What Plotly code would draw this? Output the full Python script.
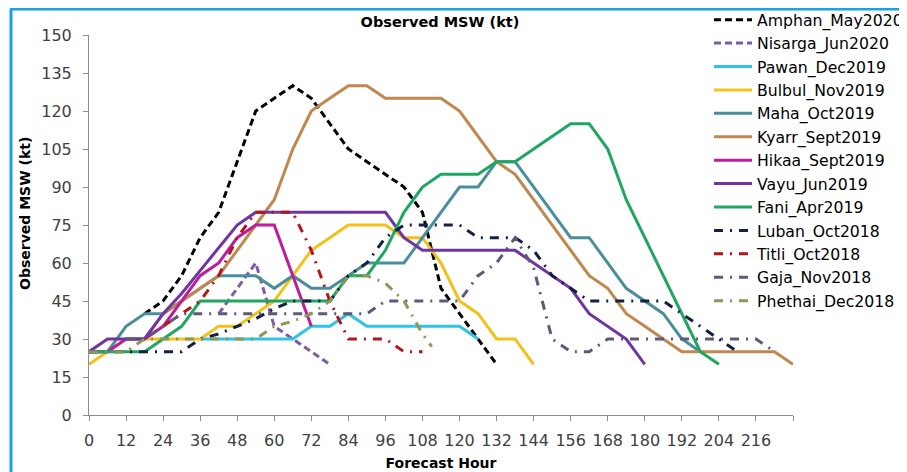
import plotly.graph_objects as go

FONT = "DejaVu Sans"

# ---- data (forecast hour, observed MSW kt) ----
amphan_h = list(range(18, 133, 6))
amphan_v = [40, 45, 55, 70, 80, 100, 120, 125, 130, 125, 115, 105, 100, 95, 90, 80, 50, 40, 30, 20]

nisarga_h = list(range(42, 79, 6))
nisarga_v = [40, 50, 60, 35, 30, 25, 20]

pawan_h = list(range(36, 127, 6))
pawan_v = [30, 30, 30, 30, 30, 30, 35, 35, 40, 35, 35, 35, 35, 35, 35, 30]

bulbul_h = list(range(0, 145, 6))
bulbul_v = [20, 25, 30, 30, 30, 30, 30, 35, 35, 40, 45, 55, 65, 70, 75, 75, 75, 70, 70, 60, 45, 40, 30, 30, 20]

maha_h = list(range(0, 199, 6))
maha_v = [25, 25, 35, 40, 40, 45, 50, 55, 55, 55, 50, 55, 50, 50, 55, 60, 60, 60, 70, 80,
          90, 90, 100, 100, 90, 80, 70, 70, 60, 50, 45, 40, 30, 25]

kyarr_h = list(range(18, 229, 6))
kyarr_v = [30, 40, 45, 50, 55, 65, 75, 85, 105, 120, 125, 130, 130, 125, 125, 125, 125, 120,
           110, 100, 95, 85, 75, 65, 55, 50, 40, 35, 30, 25, 25, 25, 25, 25, 25, 20]

hikaa_h = list(range(0, 73, 6))
hikaa_v = [25, 25, 30, 30, 35, 45, 55, 60, 70, 75, 75, 55, 35]

vayu_h = list(range(0, 181, 6))
vayu_v = [25, 30, 30, 30, 40, 48, 57, 66, 75, 80, 80, 80, 80, 80, 80, 80, 80, 70, 65,
          65, 65, 65, 65, 65, 60, 55, 50, 40, 35, 30, 20]

fani_h = list(range(0, 205, 6))
fani_v = [25, 25, 25, 25, 30, 35, 45, 45, 45, 45, 45, 45, 45, 45, 55, 55, 65, 80, 90, 95,
          95, 95, 100, 100, 105, 110, 115, 115, 105, 85, 70, 55, 40, 25, 20]

luban_h = list(range(0, 211, 6))
luban_v = [25, 25, 25, 25, 25, 25, 30, 32, 35, 38, 42, 45, 45, 45, 55, 60, 70, 75, 75, 75,
           75, 70, 70, 70, 65, 55, 50, 45, 45, 45, 45, 45, 40, 35, 30, 25]

titli_h = list(range(24, 109, 6))
titli_v = [35, 40, 45, 55, 70, 80, 80, 80, 65, 45, 30, 30, 30, 25, 25]

gaja_h = list(range(12, 223, 6))
gaja_v = [30, 30, 35, 40, 40, 40, 40, 40, 40, 40, 40, 40, 40, 40, 45, 45, 45, 45, 45, 55,
          60, 70, 58, 30, 25, 25, 30, 30, 30, 30, 30, 30, 30, 30, 30, 25]

phethai_h = list(range(0, 109, 6)) + [111]
phethai_v = [25, 25, 25, 30, 30, 30, 30, 30, 30, 30, 35, 37, 40, 45, 55, 55, 52, 45, 32, 27]

x_ticks = list(range(0, 229, 12))
x_labels = [str(t) for t in range(0, 217, 12)] + [""]
y_ticks = list(range(0, 151, 15))

DASH = "7px,4px"
DASHDOT = "9px,7px,2px,7px"

series = [
    ("Amphan_May2020", amphan_h, amphan_v, "#000000", DASH),
    ("Nisarga_Jun2020", nisarga_h, nisarga_v, "#7E5AA8", DASH),
    ("Pawan_Dec2019", pawan_h, pawan_v, "#2FC3E6", "solid"),
    ("Bulbul_Nov2019", bulbul_h, bulbul_v, "#F2C21B", "solid"),
    ("Maha_Oct2019", maha_h, maha_v, "#4A8E9E", "solid"),
    ("Kyarr_Sept2019", kyarr_h, kyarr_v, "#C0874F", "solid"),
    ("Hikaa_Sept2019", hikaa_h, hikaa_v, "#BE1C9C", "solid"),
    ("Vayu_Jun2019", vayu_h, vayu_v, "#7035A0", "solid"),
    ("Fani_Apr2019", fani_h, fani_v, "#1FA660", "solid"),
    ("Luban_Oct2018", luban_h, luban_v, "#132043", DASHDOT),
    ("Titli_Oct2018", titli_h, titli_v, "#B2151B", DASHDOT),
    ("Gaja_Nov2018", gaja_h, gaja_v, "#5E587A", DASHDOT),
    ("Phethai_Dec2018", phethai_h, phethai_v, "#8A9858", DASHDOT),
]

fig = go.Figure()
for name, h, v, color, dash in series:
    fig.add_trace(go.Scatter(x=h, y=v, mode="lines", name=name,
                             line=dict(color=color, width=3, dash=dash)))

# the page draws the figure 8px right/down of the window corner
OFF = 8
W, H = 907, 472
ML, MT = 89 - OFF, 35 - OFF
MR, MB = W - (793 - OFF), H - (415 - OFF)
pw, ph = W - ML - MR, H - MT - MB

def sx(s):
    return (s - OFF - ML) / pw

def sy(s):
    return (H - MB - (s - OFF)) / ph

fig.update_layout(
    width=W, height=H,
    margin=dict(l=ML, r=MR, t=MT, b=MB, autoexpand=False),
    paper_bgcolor="white", plot_bgcolor="white",
    font=dict(family=FONT, size=16, color="#404040"),
    title=dict(text="<b>Observed MSW (kt)</b>", xref="container", x=(440 - OFF) / W, xanchor="center",
               yref="container", y=1 - (22 - OFF) / H, yanchor="middle",
               font=dict(size=14.5, color="#000000")),
    xaxis=dict(range=[0, 228], tickvals=x_ticks, ticktext=x_labels,
               showgrid=False, zeroline=False, showline=True, linecolor="#8c8c8c",
               linewidth=1, ticks="outside", ticklen=5, tickcolor="#8c8c8c",
               tickfont=dict(size=16, color="#404040"), ticklabelstandoff=6,
               title=dict(text="<b>Forecast Hour</b>", font=dict(size=14, color="#000000"), standoff=8)),
    yaxis=dict(range=[0, 150], tickvals=y_ticks,
               showgrid=False, zeroline=False, showline=True, linecolor="#8c8c8c",
               linewidth=1, ticks="outside", ticklen=5, tickcolor="#8c8c8c",
               tickfont=dict(size=16, color="#404040"), ticklabelstandoff=8),
    legend=dict(x=sx(709), y=sy(3), xanchor="left", yanchor="top",
                bgcolor="rgba(0,0,0,0)", font=dict(size=15.7, color="#000000"),
                tracegroupgap=0, itemwidth=38, maxheight=460),
    showlegend=True,
)

# y-axis title, placed where the reference has it
fig.add_annotation(text="<b>Observed MSW (kt)</b>", textangle=-90, xref="paper", yref="paper",
                   x=sx(25), y=sy(214), xanchor="center", yanchor="middle", showarrow=False,
                   font=dict(size=14, color="#000000"))

# blue frame lines around the picture
fig.add_shape(type="line", xref="paper", yref="paper", x0=sx(10), x1=sx(930), y0=sy(9), y1=sy(9),
              line=dict(color="#1CA0E8", width=3))
fig.add_shape(type="line", xref="paper", yref="paper", x0=sx(11), x1=sx(11), y0=sy(9), y1=sy(490),
              line=dict(color="#1CA0E8", width=3))

fig.write_html("out.html")
